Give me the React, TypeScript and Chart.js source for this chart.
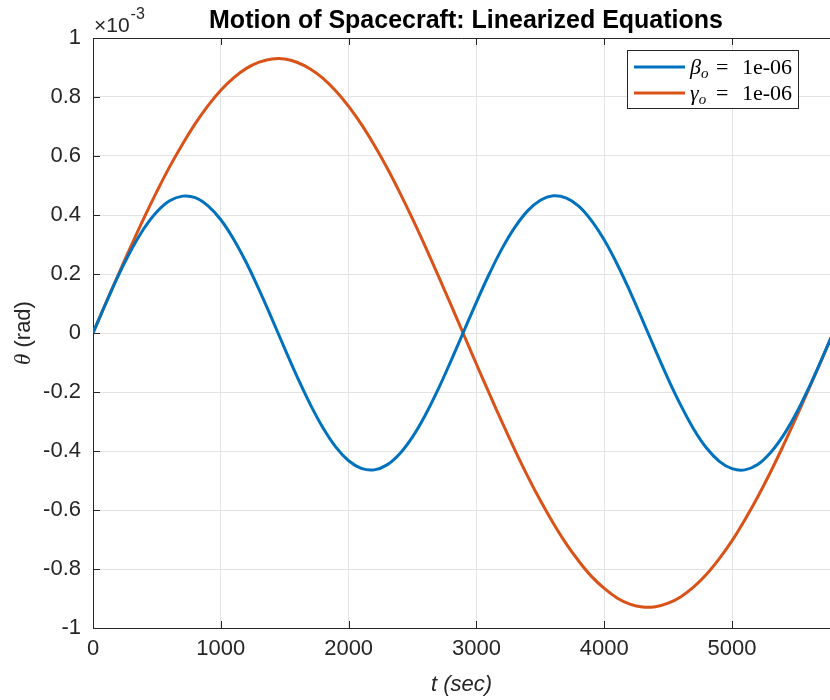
import React, { useEffect, useRef } from 'react';
import { Chart, registerables } from 'chart.js';

Chart.register(...registerables);

// ---- data (values shown in units of 1e-3 rad) ----
const timeSec = [
  0, 100, 200, 300, 400, 500, 600, 700, 800, 900,
  1000, 1100, 1200, 1300, 1400, 1500, 1600, 1700, 1800, 1900,
  2000, 2100, 2200, 2300, 2400, 2500, 2600, 2700, 2800, 2900,
  3000, 3100, 3200, 3300, 3400, 3500, 3600, 3700, 3800, 3900,
  4000, 4100, 4200, 4300, 4400, 4500, 4600, 4700, 4800, 4900,
  5000, 5100, 5200, 5300, 5400, 5500, 5600, 5700, 5800,
];
const betaTheta = [
  0, 0.100, 0.196, 0.282, 0.355, 0.411, 0.448, 0.464, 0.459, 0.431,
  0.384, 0.318, 0.238, 0.146, 0.048, -0.053, -0.151, -0.242, -0.322, -0.387,
  -0.433, -0.459, -0.464, -0.447, -0.409, -0.352, -0.278, -0.191, -0.095, 0.005,
  0.105, 0.200, 0.286, 0.358, 0.414, 0.450, 0.465, 0.458, 0.430, 0.381,
  0.315, 0.234, 0.142, 0.043, -0.058, -0.156, -0.246, -0.326, -0.390, -0.435,
  -0.460, -0.464, -0.446, -0.406, -0.348, -0.274, -0.186, -0.090, 0.010,
];
const gammaTheta = [
  0, 0.101, 0.200, 0.297, 0.391, 0.480, 0.564, 0.640, 0.710, 0.771,
  0.823, 0.865, 0.897, 0.918, 0.929, 0.929, 0.917, 0.895, 0.863, 0.820,
  0.768, 0.707, 0.637, 0.560, 0.476, 0.387, 0.293, 0.195, 0.096, -0.005,
  -0.106, -0.205, -0.302, -0.396, -0.485, -0.568, -0.644, -0.713, -0.773, -0.825,
  -0.866, -0.898, -0.919, -0.929, -0.928, -0.916, -0.894, -0.861, -0.818, -0.765,
  -0.704, -0.633, -0.556, -0.472, -0.382, -0.288, -0.190, -0.091, 0.010,
];
const xTickValues = [0, 1000, 2000, 3000, 4000, 5000];
const yTickValues = [-1, -0.8, -0.6, -0.4, -0.2, 0, 0.2, 0.4, 0.6, 0.8, 1];
const xRange = [0, 5766];
const yRange = [-1, 1];
const titleText = 'Motion of Spacecraft: Linearized Equations';
const xLabelText = 't (sec)';
const yLabelSymbol = 'θ';
const yLabelUnit = ' (rad)';
const legendSymbols = ['β', 'γ'];
const legendValue = '1e-06';
const seriesColors = ['#0072BD', '#D95319'];

const AXIS = '#262626';
const SANS = '"Liberation Sans", Arial, sans-serif';
const SERIF = '"Liberation Serif", "Times New Roman", serif';

const decorPlugin = {
  id: 'matlabDecor',
  afterDraw(chart: any) {
    const ctx = chart.ctx as CanvasRenderingContext2D;
    const { left, right, top, bottom } = chart.chartArea;
    const xs = chart.scales.x;
    const ys = chart.scales.y;
    ctx.save();
    // top box line
    ctx.strokeStyle = AXIS;
    ctx.lineWidth = 1;
    ctx.beginPath();
    ctx.moveTo(left, Math.round(top) + 0.5);
    ctx.lineTo(right, Math.round(top) + 0.5);
    ctx.stroke();
    // inward ticks
    const tl = 7;
    ctx.beginPath();
    xTickValues.forEach((v) => {
      const px = Math.round(xs.getPixelForValue(v)) + 0.5;
      ctx.moveTo(px, bottom);
      ctx.lineTo(px, bottom - tl);
      ctx.moveTo(px, top);
      ctx.lineTo(px, top + tl);
    });
    yTickValues.forEach((v) => {
      const py = Math.round(ys.getPixelForValue(v)) + 0.5;
      ctx.moveTo(left, py);
      ctx.lineTo(left + tl, py);
    });
    ctx.stroke();

    // title
    ctx.fillStyle = '#000';
    ctx.font = `bold 25px ${SANS}`;
    ctx.textAlign = 'center';
    ctx.textBaseline = 'alphabetic';
    ctx.fillText(titleText, 466, 28);

    // exponent label
    ctx.fillStyle = AXIS;
    ctx.textAlign = 'left';
    ctx.font = `21px ${SANS}`;
    ctx.fillText('×10', 94, 32);
    const w10 = ctx.measureText('×10').width;
    ctx.font = `16px ${SANS}`;
    ctx.fillText('-3', 94 + w10 + 1, 19);

    // x axis label
    ctx.font = `italic 22px ${SANS}`;
    ctx.textAlign = 'center';
    ctx.fillText(xLabelText, (left + right) / 2, 691);

    // y axis label
    ctx.save();
    ctx.translate(30, (top + bottom) / 2);
    ctx.rotate(-Math.PI / 2);
    ctx.font = `italic 23px ${SERIF}`;
    const wTh = ctx.measureText(yLabelSymbol).width;
    ctx.font = `22px ${SANS}`;
    const wUnit = ctx.measureText(yLabelUnit).width;
    const start = -(wTh + wUnit) / 2;
    ctx.textAlign = 'left';
    ctx.font = `italic 23px ${SERIF}`;
    ctx.fillText(yLabelSymbol, start, 0);
    ctx.font = `22px ${SANS}`;
    ctx.fillText(yLabelUnit, start + wTh, 0);
    ctx.restore();

    // legend
    const bx = 627.5, by = 50.5, bw = 171, bh = 58;
    ctx.fillStyle = '#fff';
    ctx.fillRect(bx, by, bw, bh);
    ctx.strokeStyle = AXIS;
    ctx.lineWidth = 1;
    ctx.strokeRect(bx, by, bw, bh);
    const rows = [67, 93];
    rows.forEach((cy, i) => {
      ctx.strokeStyle = seriesColors[i];
      ctx.lineWidth = 3;
      ctx.beginPath();
      ctx.moveTo(634, cy);
      ctx.lineTo(685, cy);
      ctx.stroke();
      ctx.fillStyle = '#000';
      ctx.textAlign = 'left';
      ctx.font = `italic 22px ${SERIF}`;
      ctx.fillText(legendSymbols[i], 690, cy + 7);
      const ws = ctx.measureText(legendSymbols[i]).width;
      ctx.font = `italic 15px ${SERIF}`;
      ctx.fillText('o', 690 + ws, cy + 11);
      ctx.font = `22px ${SERIF}`;
      ctx.fillText('=', 716, cy + 7);
      ctx.fillText(legendValue, 742, cy + 7);
    });
    ctx.restore();
  },
};

export default function App() {
  const canvasRef = useRef<HTMLCanvasElement | null>(null);

  useEffect(() => {
    const canvas = canvasRef.current;
    if (!canvas) return;
    const toPoints = (ys: number[]) => timeSec.map((t, i) => ({ x: t, y: ys[i] }));
    const tickFont = { family: SANS, size: 22 };
    const chart = new Chart(canvas, {
      type: 'line',
      data: {
        datasets: [
          {
            label: 'beta',
            data: toPoints(betaTheta),
            borderColor: seriesColors[0],
            borderWidth: 3,
            pointRadius: 0,
            tension: 0.4,
            fill: false,
          },
          {
            label: 'gamma',
            data: toPoints(gammaTheta),
            borderColor: seriesColors[1],
            borderWidth: 3,
            pointRadius: 0,
            tension: 0.4,
            fill: false,
          },
        ],
      },
      options: {
        responsive: false,
        animation: false,
        devicePixelRatio: 1,
        layout: { padding: { top: 38, left: 0, right: 0, bottom: 0 } },
        plugins: {
          legend: { display: false },
          title: { display: false },
          tooltip: { enabled: false },
        },
        scales: {
          x: {
            type: 'linear',
            min: xRange[0],
            max: xRange[1],
            afterBuildTicks: (scale: any) => {
              scale.ticks = xTickValues.map((v) => ({ value: v }));
            },
            afterFit: (scale: any) => {
              scale.height = 72;
            },
            grid: { color: '#e3e3e3', lineWidth: 1, drawTicks: false },
            border: { color: AXIS, width: 1 },
            ticks: {
              color: AXIS,
              font: tickFont,
              padding: 8,
              maxRotation: 0,
              autoSkip: false,
              callback: (v: any) => String(v),
            },
          },
          y: {
            type: 'linear',
            min: yRange[0],
            max: yRange[1],
            afterBuildTicks: (scale: any) => {
              scale.ticks = yTickValues.map((v) => ({ value: v }));
            },
            afterFit: (scale: any) => {
              scale.width = 93;
            },
            grid: { color: '#e3e3e3', lineWidth: 1, drawTicks: false },
            border: { color: AXIS, width: 1 },
            ticks: {
              color: AXIS,
              font: tickFont,
              padding: 12,
              autoSkip: false,
              callback: (v: any) => String(Number(Number(v).toFixed(1))),
            },
          },
        },
      },
      plugins: [decorPlugin],
    } as any);
    return () => chart.destroy();
  }, []);

  return (
    <div style={{ position: 'fixed', left: 0, top: 0, width: 830, height: 700, background: '#fff' }}>
      <canvas ref={canvasRef} width={830} height={700} style={{ display: 'block' }} />
    </div>
  );
}
